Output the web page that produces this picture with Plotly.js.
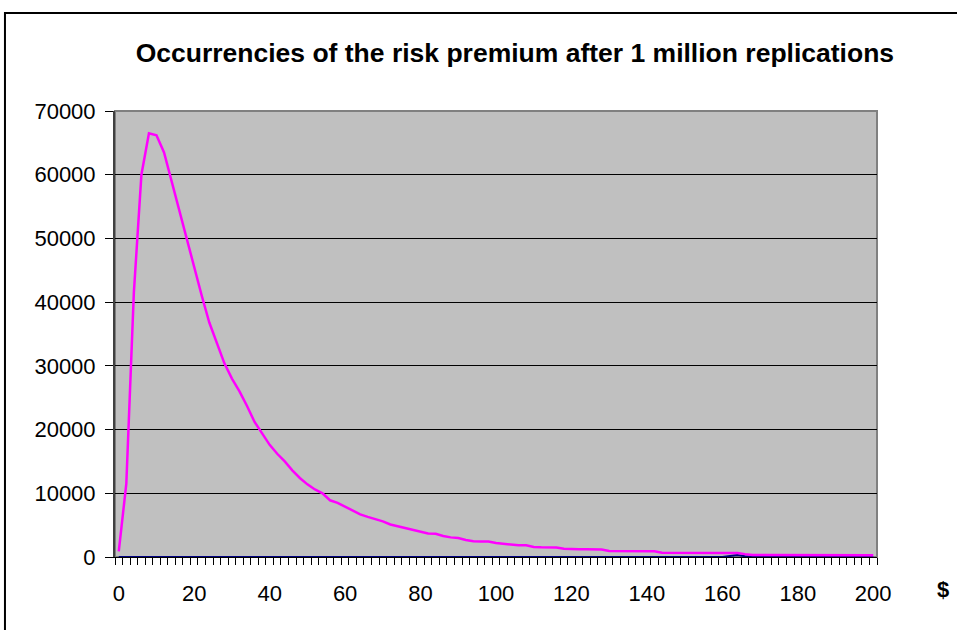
<!DOCTYPE html>
<html>
<head>
<meta charset="utf-8">
<script src="https://cdn.plot.ly/plotly-3.0.1.min.js"></script>
<style>
  html, body { margin: 0; padding: 0; background: #ffffff; }
  #chart { width: 957px; height: 630px; }
</style>
</head>
<body>
<div id="chart"></div>
<script>
// Category values ($) on the x axis
const categories = [
  0, 2, 4, 6, 8, 10, 12, 14, 16, 18,
  20, 22, 24, 26, 28, 30, 32, 34, 36, 38,
  40, 42, 44, 46, 48, 50, 52, 54, 56, 58,
  60, 62, 64, 66, 68, 70, 72, 74, 76, 78,
  80, 82, 84, 86, 88, 90, 92, 94, 96, 98,
  100, 102, 104, 106, 108, 110, 112, 114, 116, 118,
  120, 122, 124, 126, 128, 130, 132, 134, 136, 138,
  140, 142, 144, 146, 148, 150, 152, 154, 156, 158,
  160, 162, 164, 166, 168, 170, 172, 174, 176, 178,
  180, 182, 184, 186, 188, 190, 192, 194, 196, 198,
  200
];

// Occurrences of the risk premium (magenta series)
const occurrences = [
  900, 11500, 41500, 60000, 66500, 66200, 63500, 59000, 54500, 49800,
  45500, 41000, 36800, 33500, 30400, 28000, 26000, 23700, 21200, 19400,
  17600, 16200, 15000, 13600, 12400, 11400, 10600, 10000, 8900, 8500,
  7900, 7300, 6700, 6300, 6000, 5600, 5100, 4800, 4500, 4200,
  3900, 3700, 3650, 3300, 3080, 2980, 2670, 2460, 2450, 2440,
  2200, 2100, 1900, 1840, 1830, 1570, 1520, 1510, 1480, 1300,
  1210, 1200, 1200, 1190, 1180, 940, 930, 930, 920, 920,
  910, 900, 680, 675, 670, 670, 665, 660, 660, 655,
  650, 650, 620, 450, 310, 300, 300, 300, 295, 290,
  290, 285, 285, 280, 280, 280, 275, 275, 270, 270,
  270
];

// Second (navy) series, almost zero everywhere
const secondSeries = [
  0, 0, 0, 0, 0, 0, 0, 0, 0, 0,
  0, 0, 0, 0, 0, 0, 0, 0, 0, 0,
  0, 0, 0, 0, 0, 0, 0, 0, 0, 0,
  0, 0, 0, 0, 0, 0, 0, 0, 0, 0,
  0, 0, 0, 0, 0, 0, 0, 0, 0, 0,
  0, 0, 0, 0, 0, 0, 0, 0, 0, 0,
  0, 0, 0, 0, 0, 0, 0, 0, 0, 0,
  0, 0, 0, 0, 0, 0, 0, 0, 0, 0,
  0, 150, 300, 120, 0, 0, 0, 0, 0, 0,
  0, 0, 0, 0, 0, 0, 0, 0, 0, 0,
  0
];

const yTickValues = [0, 10000, 20000, 30000, 40000, 50000, 60000, 70000];
const xTickValues = [0, 20, 40, 60, 80, 100, 120, 140, 160, 180, 200];

const FONT = 'Arial, "Liberation Sans", Helvetica, sans-serif';

const traces = [
  {
    x: categories, y: secondSeries, type: 'scatter', mode: 'lines',
    line: { color: '#000080', width: 2 }, cliponaxis: false,
    hoverinfo: 'skip', showlegend: false
  },
  {
    x: categories, y: occurrences, type: 'scatter', mode: 'lines',
    line: { color: '#FF00FF', width: 2.5 }, cliponaxis: false,
    showlegend: false
  }
];

const layout = {
  width: 957, height: 630,
  margin: { l: 115, r: 80, t: 111, b: 73 },
  paper_bgcolor: '#ffffff',
  plot_bgcolor: '#C0C0C0',
  font: { family: FONT, color: '#000000', size: 22 },
  title: {
    text: '<b>Occurrencies of the risk premium after 1 million replications</b>',
    font: { family: FONT, size: 26.5, color: '#000000' },
    xref: 'container', x: 0.538, xanchor: 'center',
    yref: 'container', y: 0.917, yanchor: 'middle'
  },
  xaxis: {
    type: 'linear', range: [-1, 201], fixedrange: true,
    tickmode: 'array', tickvals: xTickValues,
    ticks: '', showgrid: false, zeroline: false,
    showline: true, linecolor: '#000000', linewidth: 1,
    tickfont: { family: FONT, size: 22, color: '#000000' },
    ticklabelstandoff: 17,
    minor: { ticks: 'outside', ticklen: 7, tickwidth: 1, tickcolor: '#000000', tick0: 1, dtick: 2, showgrid: false }
  },
  yaxis: {
    range: [0, 70000], fixedrange: true,
    tickmode: 'array', tickvals: yTickValues, tickformat: 'd',
    ticks: 'outside', ticklen: 8, tickwidth: 1, tickcolor: '#000000',
    showgrid: true, gridcolor: '#000000', gridwidth: 1,
    zeroline: false,
    showline: true, linecolor: '#404040', linewidth: 2,
    tickfont: { family: FONT, size: 22, color: '#000000' },
    ticklabelstandoff: 5
  },
  shapes: [
    { type: 'rect', xref: 'paper', yref: 'paper', x0: 0, x1: 1, y0: 0, y1: 1,
      line: { color: '#808080', width: 2 }, fillcolor: 'rgba(0,0,0,0)', layer: 'below' },
    { type: 'rect', xref: 'paper', yref: 'paper', x0: -0.1444, x1: 1.12, y0: -0.17, y1: 1.2197,
      line: { color: '#000000', width: 2 }, fillcolor: 'rgba(0,0,0,0)', layer: 'below' }
  ],
  annotations: [
    { text: '<b>$</b>', xref: 'paper', yref: 'paper', x: 1.0866, y: -0.072,
      xanchor: 'center', yanchor: 'middle', showarrow: false,
      font: { family: FONT, size: 22, color: '#000000' } }
  ]
};

Plotly.newPlot('chart', traces, layout, { displayModeBar: false, staticPlot: true });
</script>
</body>
</html>
